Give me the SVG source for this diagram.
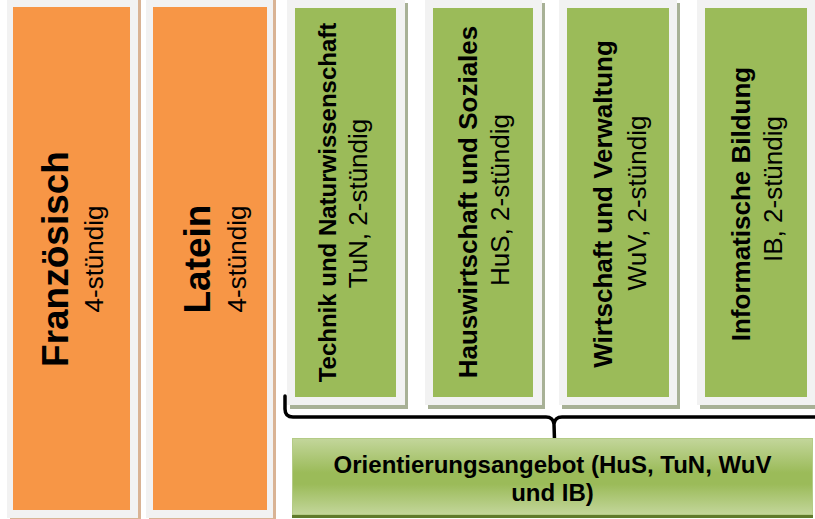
<svg xmlns="http://www.w3.org/2000/svg" width="815" height="519" viewBox="0 0 815 519">
  <defs>
    <linearGradient id="gBox" x1="0" y1="0" x2="0" y2="1">
      <stop offset="0" stop-color="#c3d69b"/>
      <stop offset="0.45" stop-color="#9bbb59"/>
      <stop offset="0.6" stop-color="#9bbb59"/>
      <stop offset="1" stop-color="#c3d69b"/>
    </linearGradient>
  </defs>
  <style>
    .frame { fill: #f2f2f2; }
    .tan { fill: #d9b394; }
    .gshadow { fill: #a8b196; }
    .orange { fill: #f79646; }
    .green { fill: #9bbb59; }
    text { font-family: "Liberation Sans", Arial, sans-serif; fill: #000; text-anchor: middle; }
    .big { font-size: 37px; font-weight: bold; }
    .bold { font-size: 26px; font-weight: bold; }
    .reg { font-size: 26px; }
    .bottom { font-size: 24px; font-weight: bold; }
    .brace { fill: none; stroke: #000; stroke-width: 3.5; stroke-linecap: round; stroke-linejoin: round; }
  </style>
  <rect width="815" height="519" fill="#ffffff"/>

  <g id="franzoesisch">
    <rect class="tan" x="10" y="0" width="131" height="519"/>
    <rect class="frame" x="7" y="0" width="131" height="518"/>
    <rect class="orange" x="13" y="7" width="117" height="503"/>
    <text class="big" transform="translate(68,259) rotate(-90)">Französisch</text>
    <text class="reg" transform="translate(103,259) rotate(-90)">4-stündig</text>
  </g>

  <g id="latein">
    <rect class="tan" x="149" y="0" width="127" height="519"/>
    <rect class="frame" x="146" y="0" width="127" height="518"/>
    <rect class="orange" x="153" y="7" width="114" height="503"/>
    <text class="big" transform="translate(210,259) rotate(-90)">Latein</text>
    <text class="reg" transform="translate(246,259) rotate(-90)">4-stündig</text>
  </g>

  <g id="tun">
    <rect class="gshadow" x="290" y="3" width="118" height="406"/>
    <rect class="frame" x="287" y="0" width="118" height="405"/>
    <rect class="green" x="295" y="8" width="101" height="389"/>
    <text class="bold" style="font-size:24px" transform="translate(336,202.5) rotate(-90)">Technik und Naturwissenschaft</text>
    <text class="reg" transform="translate(367,203.5) rotate(-90)">TuN, 2-stündig</text>
  </g>

  <g id="hus">
    <rect class="gshadow" x="428" y="3" width="117" height="406"/>
    <rect class="frame" x="425" y="0" width="117" height="405"/>
    <rect class="green" x="433" y="8" width="100" height="389"/>
    <text class="bold" transform="translate(477,202) rotate(-90)">Hauswirtschaft und Soziales</text>
    <text class="reg" transform="translate(509,200) rotate(-90)">HuS, 2-stündig</text>
  </g>

  <g id="wuv">
    <rect class="gshadow" x="562" y="3" width="118" height="406"/>
    <rect class="frame" x="559" y="0" width="118" height="405"/>
    <rect class="green" x="567" y="8" width="102" height="389"/>
    <text class="bold" transform="translate(612,204) rotate(-90)">Wirtschaft und Verwaltung</text>
    <text class="reg" transform="translate(646,203) rotate(-90)">WuV, 2-stündig</text>
  </g>

  <g id="ib">
    <rect class="gshadow" x="700" y="3" width="118" height="406"/>
    <rect class="frame" x="697" y="0" width="118" height="405"/>
    <rect class="green" x="705" y="8" width="102" height="389"/>
    <text class="bold" transform="translate(750,204) rotate(-90)">Informatische Bildung</text>
    <text class="reg" transform="translate(782,189) rotate(-90)">IB, 2-stündig</text>
  </g>

  <g id="connectors">
    <path class="brace" d="M285,396 V409 Q285,417 293,417 H546 Q553,417 554,424 L554.5,440 M554,424 Q555,417 562,417 H817"/>
  </g>

  <g id="orientierung">
    <rect x="292" y="441" width="521" height="77" fill="#5f7a2c"/>
    <rect x="292.5" y="438.5" width="520" height="76" fill="url(#gBox)" stroke="#b4cb86" stroke-width="1"/>
    <text class="bottom" x="552.5" y="473">Orientierungsangebot (HuS, TuN, WuV</text>
    <text class="bottom" x="552.5" y="501">und IB)</text>
  </g>
</svg>
